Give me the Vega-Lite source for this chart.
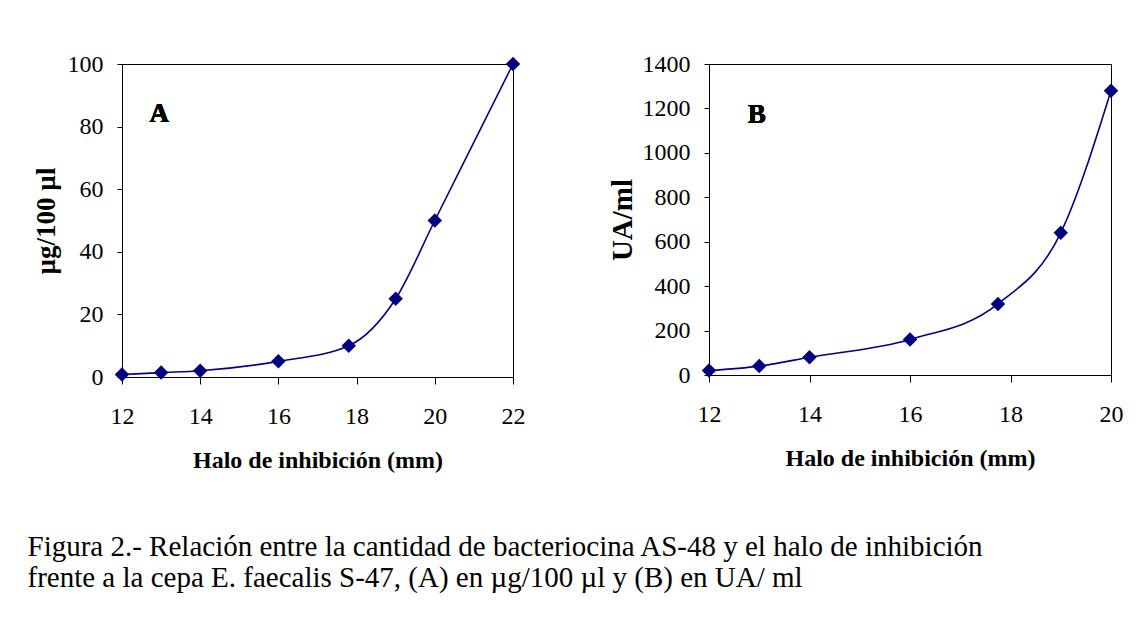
{
  "$schema": "https://vega.github.io/schema/vega-lite/v6.json",
  "background": "white",
  "padding": {"left": 27, "top": 51, "right": 0, "bottom": 0},
  "bounds": "flush",
  "spacing": 196,
  "config": {
    "font": "Liberation Serif",
    "view": {"stroke": "black", "strokeWidth": 1},
    "axis": {
      "grid": false,
      "domainColor": "black",
      "tickColor": "black",
      "labelColor": "black",
      "titleColor": "black",
      "labelFont": "Liberation Serif",
      "labelFontSize": 24,
      "labelFlush": false,
      "labelOverlap": false,
      "titleFont": "Liberation Serif",
      "titleFontWeight": "bold",
      "format": "d"
    }
  },
  "title": {
    "text": [
      "Figura 2.- Relación entre la cantidad de bacteriocina AS-48 y el halo de inhibición",
      "frente a la cepa E. faecalis S-47, (A) en µg/100 µl y (B) en UA/ ml"
    ],
    "orient": "bottom",
    "anchor": "start",
    "font": "Liberation Serif",
    "fontSize": 29,
    "fontWeight": "normal",
    "color": "black",
    "lineHeight": 31,
    "offset": 60,
    "dx": -4
  },
  "datasets": {
    "panelA": [
      {"halo": 12, "conc": 0.78},
      {"halo": 13, "conc": 1.4},
      {"halo": 14, "conc": 2.0},
      {"halo": 16, "conc": 5.0},
      {"halo": 17.8, "conc": 10.0},
      {"halo": 19, "conc": 25},
      {"halo": 20, "conc": 50},
      {"halo": 22, "conc": 100}
    ],
    "panelB": [
      {"halo": 12, "ua": 20},
      {"halo": 13, "ua": 40},
      {"halo": 14, "ua": 80},
      {"halo": 16, "ua": 160},
      {"halo": 17.75, "ua": 320},
      {"halo": 19, "ua": 640},
      {"halo": 20, "ua": 1280}
    ]
  },
  "hconcat": [
    {
      "width": 391,
      "height": 313,
      "data": {"name": "panelA"},
      "encoding": {
        "x": {
          "field": "halo",
          "type": "quantitative",
          "scale": {"domain": [12, 22], "nice": false, "zero": false},
          "axis": {
            "values": [12, 14, 16, 18, 20, 22],
            "title": "Halo de inhibición (mm)",
            "titleFontSize": 24,
            "tickSize": 7,
            "labelPadding": 20,
            "titlePadding": 20
          }
        },
        "y": {
          "field": "conc",
          "type": "quantitative",
          "scale": {"domain": [0, 100], "nice": false},
          "axis": {
            "values": [0, 20, 40, 60, 80, 100],
            "title": "µg/100 µl",
            "titleFontSize": 27,
            "tickSize": 5,
            "labelPadding": 14,
            "titlePadding": 7
          }
        }
      },
      "layer": [
        {"mark": {"type": "line", "interpolate": "monotone", "color": "#000080", "strokeWidth": 1.6}},
        {"mark": {"type": "point", "shape": "diamond", "filled": true, "size": 210, "color": "#000080", "opacity": 1}},
        {
          "mark": {"type": "text", "fontSize": 27, "fontWeight": "bold", "font": "Liberation Serif", "color": "black", "align": "center", "baseline": "middle"},
          "encoding": {"x": {"datum": 12.95}, "y": {"datum": 84}, "text": {"value": "A"}}
        }
      ]
    },
    {
      "width": 402,
      "height": 311,
      "data": {"name": "panelB"},
      "encoding": {
        "x": {
          "field": "halo",
          "type": "quantitative",
          "scale": {"domain": [12, 20], "nice": false, "zero": false},
          "axis": {
            "values": [12, 14, 16, 18, 20],
            "title": "Halo de inhibición (mm)",
            "titleFontSize": 24,
            "tickSize": 7,
            "labelPadding": 20,
            "titlePadding": 20
          }
        },
        "y": {
          "field": "ua",
          "type": "quantitative",
          "scale": {"domain": [0, 1400], "nice": false},
          "axis": {
            "values": [0, 200, 400, 600, 800, 1000, 1200, 1400],
            "title": "UA/ml",
            "titleFontSize": 29,
            "tickSize": 5,
            "labelPadding": 14,
            "titlePadding": 5
          }
        }
      },
      "layer": [
        {"mark": {"type": "line", "interpolate": "monotone", "color": "#000080", "strokeWidth": 1.6}},
        {"mark": {"type": "point", "shape": "diamond", "filled": true, "size": 210, "color": "#000080", "opacity": 1}},
        {
          "mark": {"type": "text", "fontSize": 27, "fontWeight": "bold", "font": "Liberation Serif", "color": "black", "align": "center", "baseline": "middle"},
          "encoding": {"x": {"datum": 12.95}, "y": {"datum": 1172}, "text": {"value": "B"}}
        }
      ]
    }
  ]
}
